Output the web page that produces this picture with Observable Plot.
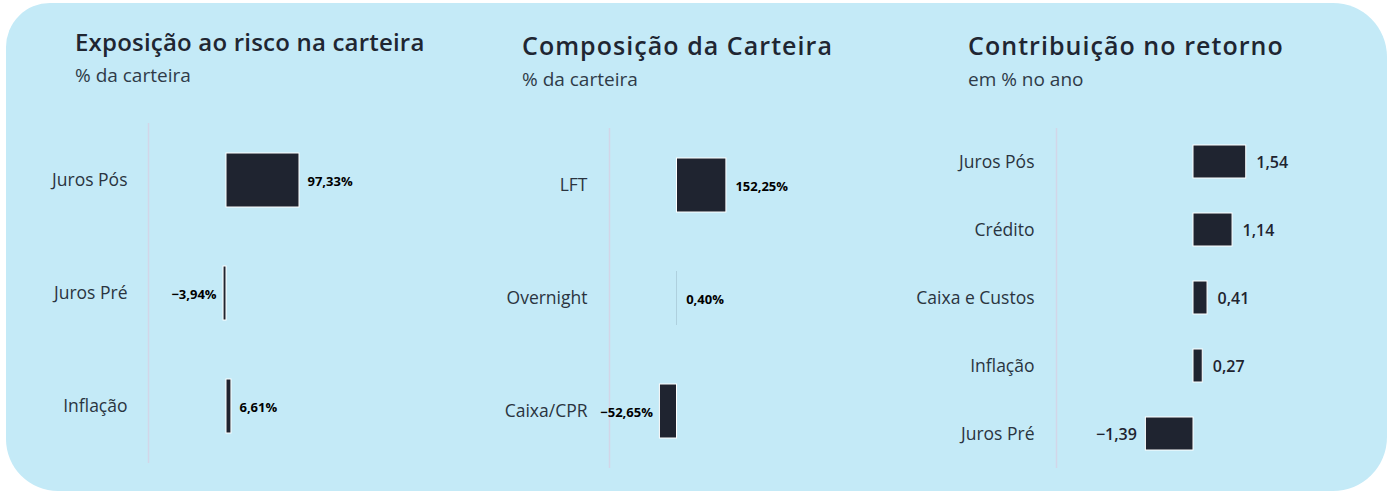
<!DOCTYPE html>
<html>
<head>
<meta charset="utf-8">
<script src="https://cdn.jsdelivr.net/npm/d3@7"></script>
<script src="https://cdn.jsdelivr.net/npm/@observablehq/plot@0.6"></script>
<style>
  html, body { margin: 0; padding: 0; background: #ffffff; width: 1391px; height: 494px; overflow: hidden; }
  #card { position: absolute; left: 6px; top: 3px; width: 1381px; height: 488px; background: #c4eaf7;
          border-radius: 44px 54px 54px 52px; }
  .title { position: absolute; font-family: "Open Sans", sans-serif; font-weight: 600; color: #1f2632; white-space: nowrap; line-height: 1; }
  .sub { position: absolute; font-family: "Open Sans", sans-serif; font-weight: 400; font-size: 19px; color: #2f3b48; white-space: nowrap; line-height: 1; }
  .panel { position: absolute; }
</style>
</head>
<body>
<div id="card"></div>
<div class="title" style="left:75px; top:30px; font-size:24px; letter-spacing:0.2px;">Exposição ao risco na carteira</div>
<div class="sub" style="left:75px; top:66px;">% da carteira</div>
<div class="title" style="left:522px; top:33px; font-size:25px; letter-spacing:1.05px;">Composição da Carteira</div>
<div class="sub" style="left:522px; top:70px;">% da carteira</div>
<div class="title" style="left:968px; top:33px; font-size:25px; letter-spacing:1.05px;">Contribuição no retorno</div>
<div class="sub" style="left:968px; top:70px;">em % no ano</div>
<div id="p1" class="panel" style="left:0px; top:109px;"></div>
<div id="p2" class="panel" style="left:460px; top:110px;"></div>
<div id="p3" class="panel" style="left:910px; top:110px;"></div>
<script>
// ---- data ----
const riskCategories = ["Juros Pós", "Juros Pré", "Inflação"];
const riskValues = [97.33, -3.94, 6.61];

const compCategories = ["LFT", "Overnight", "Caixa/CPR"];
const compValues = [152.25, 0.40, -52.65];

const contribCategories = ["Juros Pós", "Crédito", "Caixa e Custos", "Inflação", "Juros Pré"];
const contribValues = [1.54, 1.14, 0.41, 0.27, -1.39];

// ---- formatting ----
const ptBR = d3.formatLocale({decimal: ",", thousands: ".", grouping: [3], currency: ["R$", ""]});
const fmt2 = ptBR.format(".2f");
const pct = v => fmt2(v) + "%";

function panel(el, cats, vals, opts) {
  const data = cats.map((c, i) => ({c, v: vals[i]}));
  const textBase = {
    x: "v", y: "c", text: d => opts.fmt(d.v),
    fontSize: opts.labelSize, fontWeight: opts.labelWeight, fill: opts.labelFill, dy: opts.labelDy
  };
  const chart = Plot.plot({
    width: opts.width, height: opts.height,
    marginLeft: opts.marginLeft, marginRight: opts.marginRight,
    marginTop: opts.marginTop, marginBottom: opts.marginBottom,
    style: {background: "transparent", fontFamily: "'Open Sans', sans-serif", fontSize: "17.5px", color: "#2a3440", overflow: "visible"},
    x: {domain: opts.domain, axis: null},
    y: {domain: cats, paddingInner: opts.pi, paddingOuter: opts.pi / 2, label: null, tickSize: 0, tickPadding: opts.tickPadding},
    marks: [
      Plot.ruleX([opts.domain[0]], {stroke: "#d2d6e8", strokeWidth: 1.5}),
      Plot.barX(data, {x: "v", y: "c", fill: "#1f2430",
        stroke: d => Math.abs(d.v) / (opts.domain[1] - opts.domain[0]) > 0.005 ? "#ffffff" : "none", strokeWidth: 1}),
      Plot.text(data, {...textBase, filter: d => d.v >= 0, textAnchor: "start", dx: opts.dxPos}),
      Plot.text(data, {...textBase, filter: d => d.v < 0, textAnchor: "end", dx: -opts.dxNeg})
    ]
  });
  document.getElementById(el).appendChild(chart);
}

panel("p1", riskCategories, riskValues, {
  width: 460, height: 371, marginLeft: 148, marginRight: 156, marginTop: 14, marginBottom: 17,
  domain: [-104, 104], pi: 0.52, tickPadding: 21,
  fmt: pct, labelSize: 13, labelWeight: "bold", labelFill: "#000000", labelDy: 1, dxPos: 8, dxNeg: 7
});

panel("p2", compCategories, compValues, {
  width: 450, height: 371, marginLeft: 149, marginRight: 166, marginTop: 18, marginBottom: 13,
  domain: [-208, 208], pi: 0.52, tickPadding: 22,
  fmt: pct, labelSize: 13, labelWeight: "bold", labelFill: "#000000", labelDy: 1, dxPos: 9, dxNeg: 7
});

panel("p3", contribCategories, contribValues, {
  width: 481, height: 371, marginLeft: 146, marginRight: 61, marginTop: 18, marginBottom: 13,
  domain: [-4, 4], pi: 0.51, tickPadding: 22,
  fmt: fmt2, labelSize: 16, labelWeight: 600, labelFill: "#1f2430", labelDy: 1, dxPos: 10, dxNeg: 9
});
</script>
</body>
</html>
